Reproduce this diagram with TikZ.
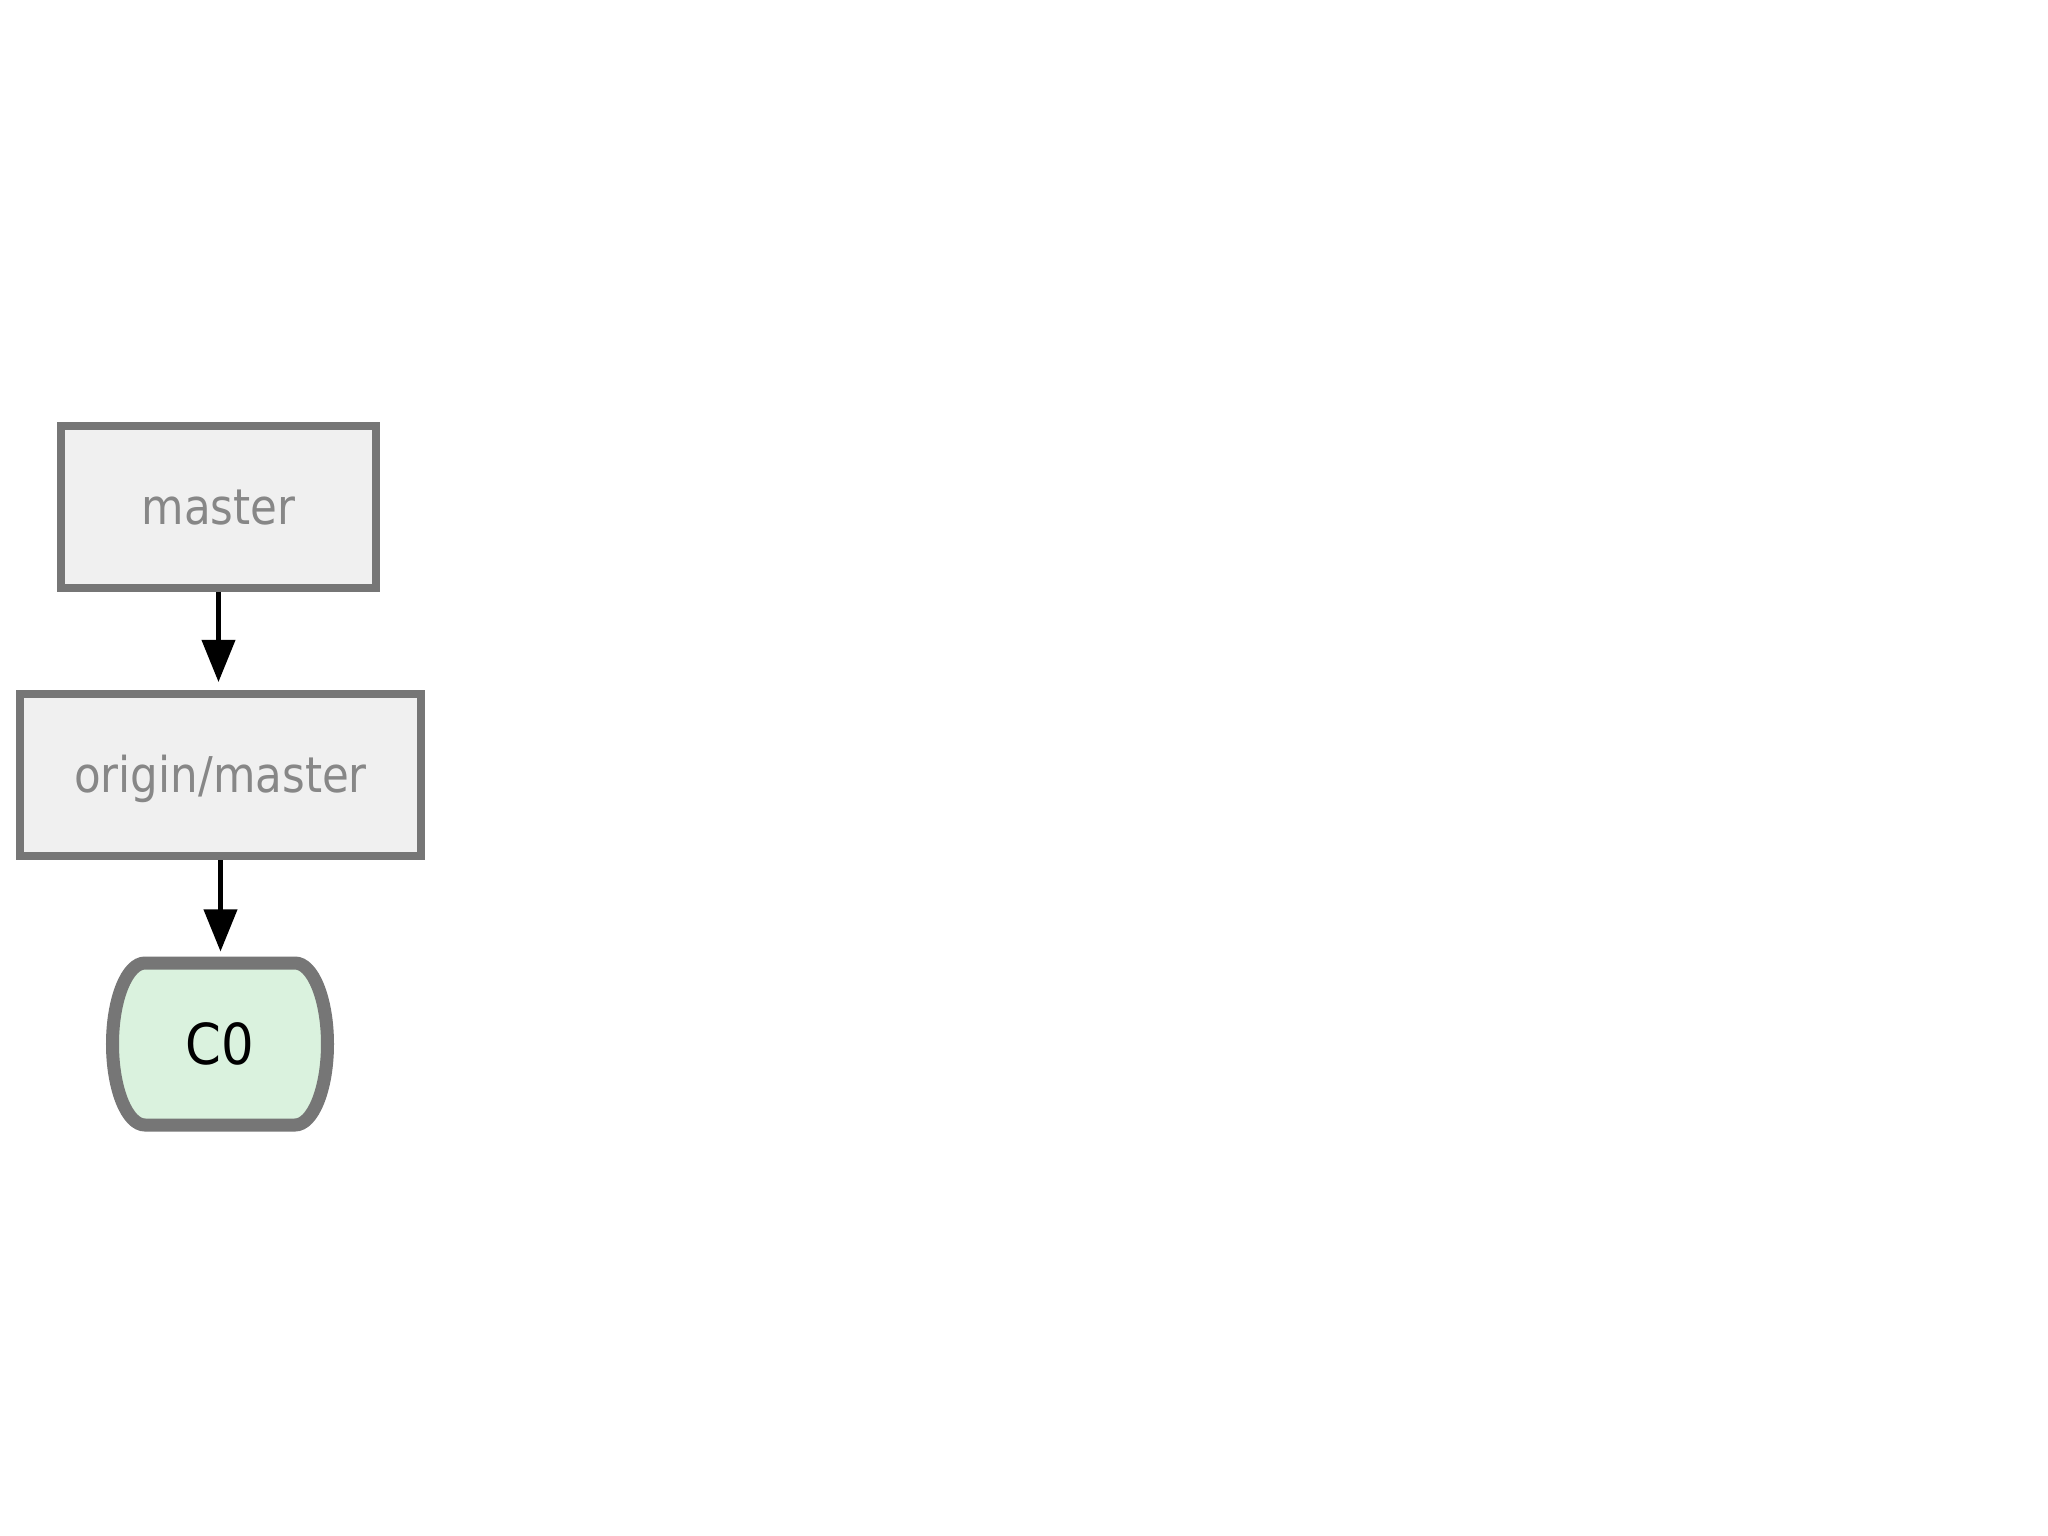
\documentclass[tikz,border=0pt]{standalone}
\usepackage{fontspec}
\setmainfont{DejaVu Sans}
\usetikzlibrary{arrows.meta}
\definecolor{edgegray}{HTML}{767676}
\definecolor{boxfill}{HTML}{F0F0F0}
\definecolor{commitfill}{HTML}{DAF2DE}
\definecolor{labelgray}{HTML}{878787}
\newcommand\tallbox[1]{\scalebox{1}[1.13]{#1}}
\tikzset{
  refbox/.style={draw=edgegray, fill=boxfill, line width=2.28pt, text=labelgray,
    font=\fontsize{12.4}{14}\selectfont, inner sep=0pt, text height=10.2pt, text depth=0pt},
  ptr/.style={line width=1.14pt, -{Triangle[length=0.42cm,width=0.33cm]}},
}

\begin{document}
\begin{tikzpicture}[x=0.01cm,y=-0.01cm]
			%%%%% START %%%%%
			\useasboundingbox (0,0) rectangle (2048,1536);
			\fill[white] (0,0) rectangle (2048,1536);
			
			\node[refbox, minimum width=3.15cm, minimum height=1.62cm] (master) at (218.5,507) {\tallbox{master}};
			\node[refbox, minimum width=4.01cm, minimum height=1.62cm] (origin) at (220.5,775) {\tallbox{origin/master}};
			
			\draw[line width=3.7pt, draw=edgegray, fill=commitfill] (145,963) -- (295,963)
			  arc[start angle=-90, end angle=90, x radius=32.5, y radius=81] -- (145,1125)
			  arc[start angle=90, end angle=270, x radius=32.5, y radius=81] -- cycle;
			\node[minimum width=2.15cm, minimum height=1.62cm, inner sep=0pt, outer sep=0.065cm,
			  font=\fontsize{14.6}{16}\selectfont] (c0) at (220,1044) {\scalebox{1}[1.1]{C0}};
			
			\draw[ptr, shorten >=0.08cm] (master.south) -- (master.south |- origin.north);
			\draw[ptr, shorten >=0.05cm] (origin.south) -- (origin.south |- c0.north);
			
			%%%%% END %%%%%
\end{tikzpicture}
\end{document}
